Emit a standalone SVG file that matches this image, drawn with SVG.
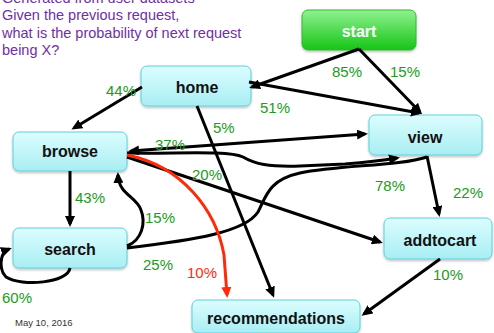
<svg xmlns="http://www.w3.org/2000/svg" width="494" height="333" viewBox="0 0 494 333">
<style>
.title{font-family:"Liberation Sans",Arial,sans-serif;font-size:14.5px;fill:#7030a0}
.node rect{fill:url(#cyan);stroke:#5fd0da;stroke-width:1;filter:url(#sh)}
.node text{font-family:"Liberation Sans",Arial,sans-serif;font-size:16px;font-weight:bold;fill:#111;text-anchor:middle}
#start rect{fill:url(#green);stroke:#33b833}
#start text{fill:#fff}
.edge{fill:none;stroke:#000;stroke-width:3}
.red{fill:none;stroke:#ff2a0a;stroke-width:3}
.lbl{font-family:"Liberation Sans",Arial,sans-serif;font-size:15px;fill:#229922}
.lblr{font-family:"Liberation Sans",Arial,sans-serif;font-size:15px;fill:#ff2a0a}
.date{font-family:"Liberation Sans",Arial,sans-serif;font-size:9.5px;fill:#333}
</style>
<defs>
<linearGradient id="cyan" x1="0" y1="0" x2="0" y2="1"><stop offset="0" stop-color="#dcfdff"/><stop offset="1" stop-color="#a8eef3"/></linearGradient>
<linearGradient id="green" x1="0" y1="0" x2="0" y2="1"><stop offset="0" stop-color="#8ff28f"/><stop offset="1" stop-color="#16c416"/></linearGradient>
<filter id="sh" x="-10%" y="-10%" width="120%" height="130%"><feDropShadow dx="0" dy="1.5" stdDeviation="1" flood-color="#000" flood-opacity="0.25"/></filter>
<marker id="ah" markerUnits="userSpaceOnUse" markerWidth="11" markerHeight="10" viewBox="0 0 11 10" refX="8" refY="5" orient="auto-start-reverse"><path d="M0,0 L11,5 L0,10 z" fill="#000"/></marker>
<marker id="ahr" markerUnits="userSpaceOnUse" markerWidth="11" markerHeight="10" viewBox="0 0 11 10" refX="8" refY="5" orient="auto"><path d="M0,0 L11,5 L0,10 z" fill="#ff2a0a"/></marker>
</defs>
<text class="title" x="2" y="2.5">Generated from user datasets</text>
<text class="title" x="2" y="20">Given the previous request,</text>
<text class="title" x="2" y="37.5">what is the probability of next request</text>
<text class="title" x="2" y="55">being X?</text>
<g id="start" class="node"><rect x="302" y="10" width="114" height="40" rx="6"/><text x="359" y="37">start</text></g>
<g id="home" class="node"><rect x="141" y="66" width="110" height="40" rx="6"/><text x="197" y="93">home</text></g>
<g id="browse" class="node"><rect x="13" y="132" width="114" height="39" rx="6"/><text x="70" y="157">browse</text></g>
<g id="view" class="node"><rect x="369" y="115" width="113" height="40" rx="6"/><text x="425" y="143">view</text></g>
<g id="search" class="node"><rect x="13" y="228" width="114" height="40" rx="6"/><text x="70" y="255">search</text></g>
<g id="addtocart" class="node"><rect x="384" y="218" width="108" height="41" rx="6"/><text x="440" y="246">addtocart</text></g>
<g id="recommendations" class="node"><rect x="192" y="300" width="168" height="33" rx="6"/><text x="276" y="324">recommendations</text></g>
<g id="connectors">
<path class="edge" d="M359,49 L252,87" marker-end="url(#ah)"/>
<path class="edge" d="M359,49 L420,112" marker-end="url(#ah)"/>
<path class="edge" d="M249,82 L419,113" marker-end="url(#ah)"/>
<path class="edge" d="M142,87 L74,128" marker-end="url(#ah)"/>
<path class="edge" d="M197,106 L273,295" marker-end="url(#ah)"/>
<path class="edge" d="M131,151 L365,134" marker-start="url(#ah)" marker-end="url(#ah)"/>
<path class="edge" d="M127,153 C175,154 228,150 243,157 C255,164 268,167 300,166 L345,164 C370,162 385,160 397,158" marker-end="url(#ah)"/>
<path class="edge" d="M127,248 C195,240 245,232 258,212 C266,197 268,180 300,173 C340,165 400,166 427,157"/>
<path class="edge" d="M427,156 L439,214" marker-end="url(#ah)"/>
<path class="edge" d="M127,157 L380,242" marker-end="url(#ah)"/>
<path class="red" d="M127,155 C182,166 216,210 224,255 L227,295" marker-end="url(#ahr)"/>
<path class="edge" d="M70,171 L70,224" marker-end="url(#ah)"/>
<path class="edge" d="M127,246 C142,240 146,223 141,210 C136,196 119,195 118,175" marker-end="url(#ah)"/>
<path class="edge" d="M70,268 C68,283 22,287 6,277 C-1,270 -1,253 9,249" marker-end="url(#ah)"/>
<path class="edge" d="M440,259 L364,314" marker-end="url(#ah)"/>
</g>
<g id="labels">
<text class="lbl" x="332" y="77">85%</text>
<text class="lbl" x="390" y="77">15%</text>
<text class="lbl" x="260" y="113">51%</text>
<text class="lbl" x="106" y="96">44%</text>
<text class="lbl" x="213" y="133">5%</text>
<text class="lbl" x="155" y="150">37%</text>
<text class="lbl" x="192" y="180">20%</text>
<text class="lbl" x="375" y="191">78%</text>
<text class="lbl" x="453" y="198">22%</text>
<text class="lbl" x="75" y="203">43%</text>
<text class="lbl" x="145" y="223">15%</text>
<text class="lbl" x="143" y="270">25%</text>
<text class="lblr" x="187" y="278">10%</text>
<text class="lbl" x="433" y="280">10%</text>
<text class="lbl" x="2" y="303">60%</text>
</g>
<text class="date" x="15" y="326">May 10, 2016</text>
</svg>
